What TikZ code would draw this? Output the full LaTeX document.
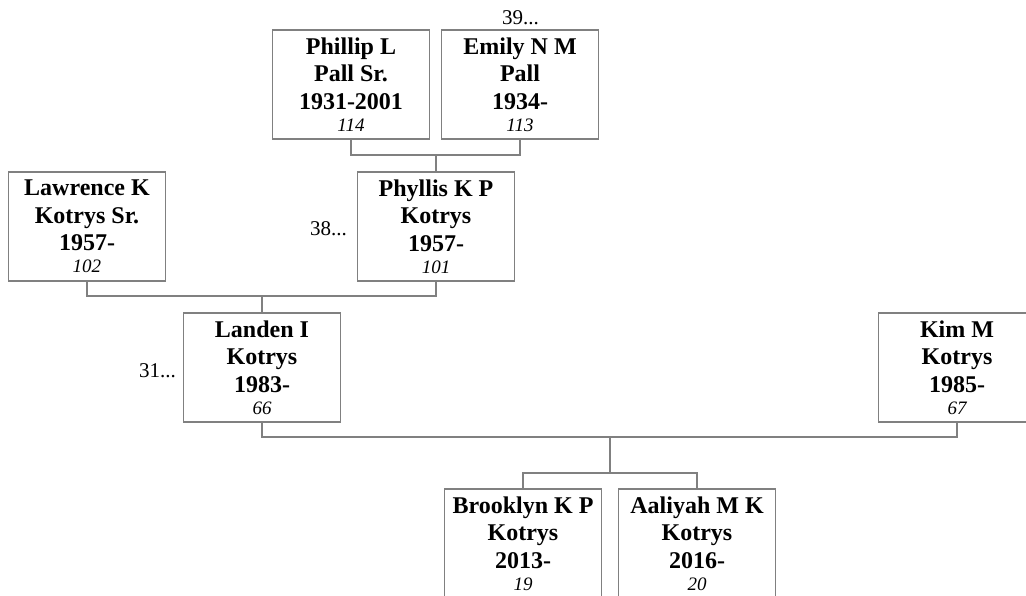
\documentclass[tikz,border=0pt]{standalone}
\usepackage{fontspec}
\setmainfont{Liberation Serif}
\definecolor{linegray}{HTML}{808080}
\tikzset{
  person/.style={draw=linegray, line width=1.3pt, rectangle, minimum width=157pt, minimum height=109pt,
    inner sep=0pt, align=center, font=\bfseries\fontsize{24}{27.5}\selectfont},
  link/.style={draw=linegray, line width=1.3pt},
  more/.style={inner sep=0pt, font=\fontsize{21}{25}\selectfont}
}
\newcommand{\idnum}[1]{{\mdseries\itshape\fontsize{19}{22}\selectfont #1}}
\begin{document}
\begin{tikzpicture}[x=1pt, y=-1pt]
\useasboundingbox (0,0) rectangle (1026,596);
\clip (0,0) rectangle (1026,596);
\node[person] (phillip) at (351,84.5) {Phillip L\\Pall Sr.\\1931-2001\\[-5.5pt]\idnum{114}};
\node[person] (emily) at (520,84.5) {Emily N M\\Pall\\1934-\\[-5.5pt]\idnum{113}};
\node[person] (lawrence) at (87,226.5) {Lawrence K\\Kotrys Sr.\\1957-\\[-5.5pt]\idnum{102}};
\node[person] (phyllis) at (436,226.5) {Phyllis K P\\Kotrys\\1957-\\[-5.5pt]\idnum{101}};
\node[person] (landen) at (262,367.5) {Landen I\\Kotrys\\1983-\\[-5.5pt]\idnum{66}};
\node[person] (kim) at (957,367.5) {Kim M\\Kotrys\\1985-\\[-5.5pt]\idnum{67}};
\node[person] (brooklyn) at (523,543.5) {Brooklyn K P\\Kotrys\\2013-\\[-5.5pt]\idnum{19}};
\node[person] (aaliyah) at (697,543.5) {Aaliyah M K\\Kotrys\\2016-\\[-5.5pt]\idnum{20}};
\node[more, anchor=base] (m39) at (520.5,25) {39...};
\node[more, anchor=base east] (m38) at (347,236) {38...};
\node[more, anchor=base east] (m31) at (176,377) {31...};
\coordinate (c1) at (436,155);
\coordinate (c2) at (262,296);
\coordinate (c3) at (610,437);
\coordinate (c4) at (610,473);
\draw[link] (phillip.south) |- (c1) -| (emily.south);
\draw[link] (c1) -- (phyllis.north);
\draw[link] (lawrence.south) |- (c2) -| (phyllis.south);
\draw[link] (c2) -- (landen.north);
\draw[link] (landen.south) |- (c3) -| (kim.south);
\draw[link] (c3) -- (c4);
\draw[link] (brooklyn.north) |- (c4) -| (aaliyah.north);
\end{tikzpicture}
\end{document}
